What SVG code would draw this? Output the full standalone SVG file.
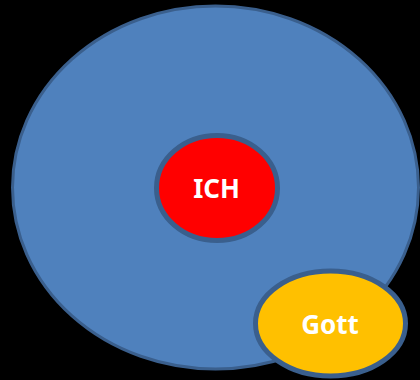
<svg xmlns="http://www.w3.org/2000/svg" width="420" height="380" viewBox="0 0 420 380">
  <style>
    .shape { stroke: #3a5f8d; }
    .label { font-family: "Noto Sans", "Open Sans", "Liberation Sans", sans-serif; font-weight: bold; font-size: 26px; fill: #ffffff; text-anchor: middle; }
  </style>
  <rect x="0" y="0" width="420" height="380" fill="#000000"/>
  <g id="welt">
    <ellipse class="shape" cx="215.5" cy="187.5" rx="203" ry="181.5" fill="#4f81bd" stroke-width="3"/>
  </g>
  <g id="ich">
    <ellipse class="shape" cx="217" cy="188" rx="60.5" ry="52.5" fill="#ff0000" stroke-width="5"/>
    <text class="label" x="216.5" y="198">ICH</text>
  </g>
  <g id="gott">
    <ellipse class="shape" cx="330.5" cy="323.5" rx="75" ry="52.5" fill="#ffc000" stroke-width="5"/>
    <text class="label" x="330" y="334">Gott</text>
  </g>
  <g id="connectors"/>
</svg>
